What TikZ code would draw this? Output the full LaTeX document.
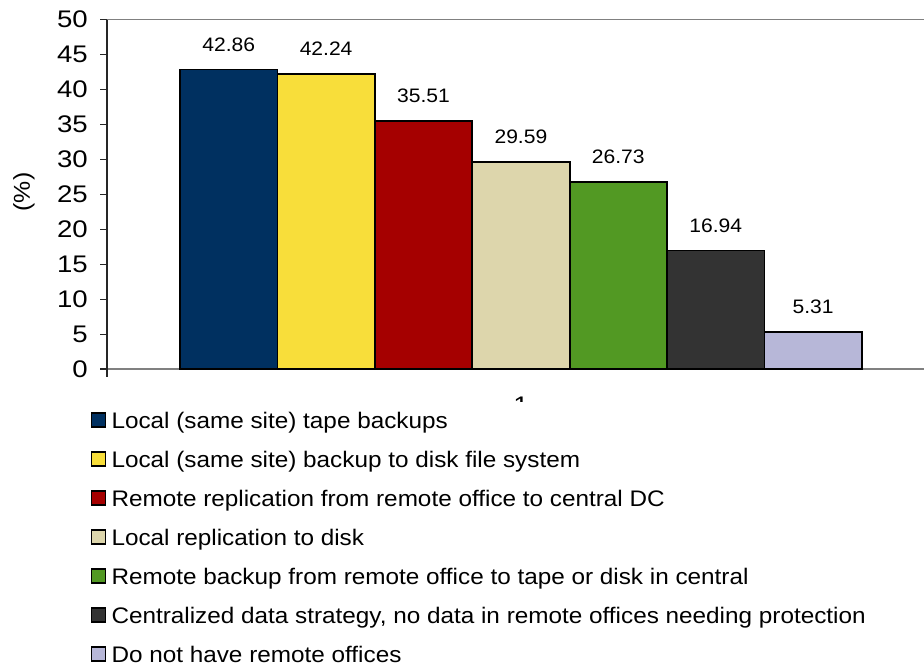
\documentclass[tikz,border=0pt]{standalone}
\usepackage{fontspec}
\setmainfont{Liberation Sans}[FakeStretch=1.08]
\newfontfamily\tickfont{Liberation Sans}[FakeStretch=1.15]
\usetikzlibrary{positioning}

\definecolor{barnavy}{RGB}{0,48,96}
\definecolor{baryellow}{RGB}{248,222,58}
\definecolor{barred}{RGB}{165,0,0}
\definecolor{barbeige}{RGB}{221,214,172}
\definecolor{bargreen}{RGB}{82,153,35}
\definecolor{bardark}{RGB}{51,51,51}
\definecolor{barlilac}{RGB}{183,183,216}

\begin{document}
\begin{tikzpicture}[x=1pt,y=-1pt,
  tick/.style={font=\tickfont\fontsize{24}{26}\selectfont,anchor=east,inner sep=0pt},
  val/.style={font=\fontsize{19.5}{22}\selectfont,inner sep=0pt},
  key/.style={draw=black,line width=1.6pt,minimum size=14pt,inner sep=0pt},
  entry/.style={font=\fontsize{22.5}{25}\selectfont,anchor=west,inner sep=0pt,
    text height=16pt,text depth=0pt},
  bar/.style={draw=black,line width=1.8pt},
  frame/.style={gray,line width=1.4pt},
  ax/.style={black!85,line width=1.1pt}]
\useasboundingbox (0,0) rectangle (924,667);

% frame and axes
\draw[frame] (107,19.5) -- (924,19.5);
\draw[frame] (107,369) -- (924,369);
\draw[ax] (107,19.5) -- (107,377);
\foreach \v in {0,5,...,50} {
  \draw[ax] (100,369-6.99*\v) -- (107,369-6.99*\v);
  \node[tick] (y\v) at (88,369-6.99*\v) {\v};
}
\node[rotate=90,font=\fontsize{23}{25}\selectfont] (ylab) at (24,192) {(\%)};

% bars
\foreach \val/\col [count=\i from 0] in {42.86/barnavy,42.24/baryellow,35.51/barred,
    29.59/barbeige,26.73/bargreen,16.94/bardark,5.31/barlilac} {
  \pgfmathsetmacro\xl{180+97.4*\i}
  \draw[bar,fill=\col] (\xl,369) rectangle (\xl+97.4,369-6.99*\val);
  \node[val] (v\i) at (\xl+48.7,369-6.99*\val-25) {\val};
}

% category label, mostly hidden by the legend
\begin{scope}
  \clip (480,393) rectangle (560,401);
  \node[tick,anchor=north] (cat) at (521,397) {1};
\end{scope}

% legend
\foreach \col/\txt [count=\i from 0] in {barnavy/Local (same site) tape backups,
    baryellow/Local (same site) backup to disk file system,
    barred/Remote replication from remote office to central DC,
    barbeige/Local replication to disk,
    bargreen/Remote backup from remote office to tape or disk in central,
    {bardark/Centralized data strategy, no data in remote offices needing protection},
    barlilac/Do not have remote offices} {
  \node[key,fill=\col] (k\i) at (98.5,420+39*\i) {};
  \node[entry,right=5pt of k\i] (e\i) {\txt};
}
\end{tikzpicture}
\end{document}
